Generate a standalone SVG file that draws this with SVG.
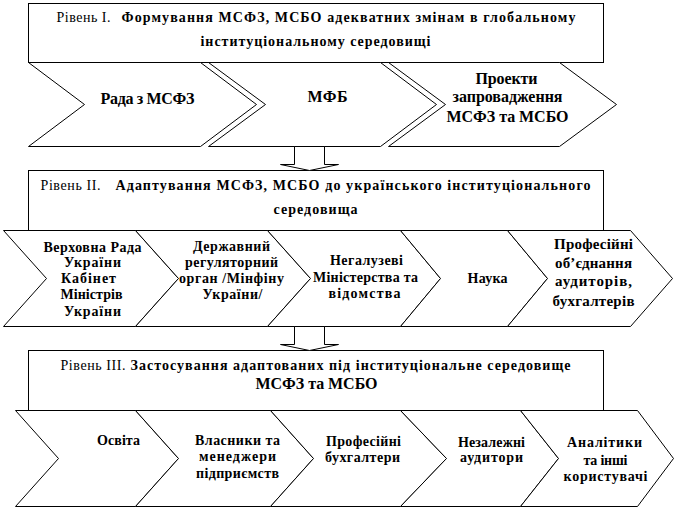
<svg xmlns="http://www.w3.org/2000/svg" width="680" height="510" viewBox="0 0 680 510">
<style>
.s{fill:#fff;stroke:#000;stroke-width:1}
.r{font-size:14px;font-weight:normal}
.b{font-size:14px;font-weight:bold}
.b16{font-size:16px;font-weight:bold}
.b15{font-size:15px;font-weight:bold}
.m{text-anchor:middle}
</style>
<rect width="680" height="510" fill="#fff"/>
<g transform="translate(0.5,0.5)" font-family="'Liberation Serif', 'Times New Roman', serif" fill="#000">
<g id="level1">
<rect class="s" x="28" y="3" width="575" height="59"/>
<text class="r" x="56" y="21" textLength="54">Рівень І.</text>
<text class="b" x="121" y="21" textLength="454">Формування МСФЗ, МСБО адекватних змінам в глобальному</text>
<text class="b" x="200" y="45" textLength="230">інституціональному середовищі</text>
</g>
<g id="rada">
<polygon class="s" points="28,62 200,62 256,104 200,146 28,146 84,104"/>
<text class="b16 m" x="147" y="103" textLength="94">Рада з МСФЗ</text>
</g>
<g id="mfb">
<polygon class="s" points="208,62 380,62 436,104 380,146 208,146 265,104"/>
<text class="b16 m" x="327" y="101" textLength="40">МФБ</text>
</g>
<g id="projects">
<polygon class="s" points="388,62 559,62 616,104 559,146 388,146 445,104"/>
<text class="b16 m" x="506" y="83" textLength="62">Проекти</text>
<text class="b16 m" x="507" y="101" textLength="110">запровадження</text>
<text class="b16 m" x="507" y="121" textLength="122">МСФЗ та МСБО</text>
</g>
<g id="level2">
<rect class="s" x="28" y="170" width="575" height="60"/>
<text class="r" x="40" y="189" textLength="60">Рівень ІІ.</text>
<text class="b" x="115" y="189" textLength="475">Адаптування МСФЗ, МСБО  до українського інституціонального</text>
<text class="b" x="273" y="213" textLength="84">середовища</text>
</g>
<g id="verkhovna">
<polygon class="s" points="3,230 135,230 178,278 135,326 3,326 46,278"/>
<text class="b m" x="92" y="251" textLength="98">Верховна Рада</text>
<text class="b m" x="92" y="266" textLength="57">України</text>
<text class="b m" x="88" y="282" textLength="55">Кабінет</text>
<text class="b m" x="91" y="298" textLength="62">Міністрів</text>
<text class="b m" x="92" y="315" textLength="57">України</text>
</g>
<g id="regulator">
<polygon class="s" points="135,230 267,230 310,278 267,326 135,326 178,278"/>
<text class="b m" x="231" y="250" textLength="77">Державний</text>
<text class="b m" x="231" y="266" textLength="93">регуляторний</text>
<text class="b m" x="231" y="282" textLength="105">орган /Мінфіну</text>
<text class="b m" x="232" y="298" textLength="60">України/</text>
</g>
<g id="ministries">
<polygon class="s" points="267,230 400,230 440,278 400,326 267,326 310,278"/>
<text class="b m" x="366" y="264" textLength="73">Негалузеві</text>
<text class="b m" x="365" y="281" textLength="105">Міністерства та</text>
<text class="b m" x="364" y="297" textLength="72">відомства</text>
</g>
<g id="science">
<polygon class="s" points="400,230 507,230 547,278 507,326 400,326 440,278"/>
<text class="b m" x="487" y="282" textLength="40">Наука</text>
</g>
<g id="associations">
<polygon class="s" points="507,230 630,230 672,278 630,326 507,326 547,278"/>
<text class="b15 m" x="593" y="248" textLength="79">Професійні</text>
<text class="b15 m" x="593" y="267" textLength="77">об’єднання</text>
<text class="b15 m" x="593" y="285" textLength="77">аудиторів,</text>
<text class="b15 m" x="593" y="305" textLength="82">бухгалтерів</text>
</g>
<g id="level3">
<rect class="s" x="28" y="350" width="575" height="60"/>
<text class="r" x="60" y="369" textLength="65">Рівень ІІІ.</text>
<text class="b" x="130" y="369" textLength="440">Застосування адаптованих під інституціональне середовище</text>
<text class="b16" x="255" y="388" textLength="122">МСФЗ та МСБО</text>
</g>
<g id="education">
<polygon class="s" points="15,410 135,410 178,458 135,506 15,506 58,458"/>
<text class="b m" x="118" y="444" textLength="43">Освіта</text>
</g>
<g id="owners">
<polygon class="s" points="135,410 270,410 313,458 270,506 135,506 178,458"/>
<text class="b m" x="237" y="444" textLength="85">Власники та</text>
<text class="b m" x="237" y="460" textLength="77">менеджери</text>
<text class="b m" x="237" y="477" textLength="83">підприємств</text>
</g>
<g id="accountants">
<polygon class="s" points="270,410 400,410 446,458 400,506 270,506 313,458"/>
<text class="b m" x="363" y="445" textLength="75">Професійні</text>
<text class="b m" x="362" y="461" textLength="75">бухгалтери</text>
</g>
<g id="auditors">
<polygon class="s" points="400,410 520,410 558,458 520,506 400,506 446,458"/>
<text class="b m" x="491" y="446" textLength="67">Незалежні</text>
<text class="b m" x="491" y="461" textLength="63">аудитори</text>
</g>
<g id="analysts">
<polygon class="s" points="520,410 637,410 673,458 637,506 520,506 558,458"/>
<text class="b m" x="604" y="446" textLength="75">Аналітики</text>
<text class="b m" x="605" y="464" textLength="44">та інші</text>
<text class="b m" x="605" y="480" textLength="84">користувачі</text>
</g>
<g id="connectors">
<polygon class="s" points="294,146 294,164 280,164 309,170 338,164 324,164 324,146"/>
<polygon class="s" points="294,326 294,344 280,344 309,350 338,344 324,344 324,326"/>
</g>
</g>
</svg>
